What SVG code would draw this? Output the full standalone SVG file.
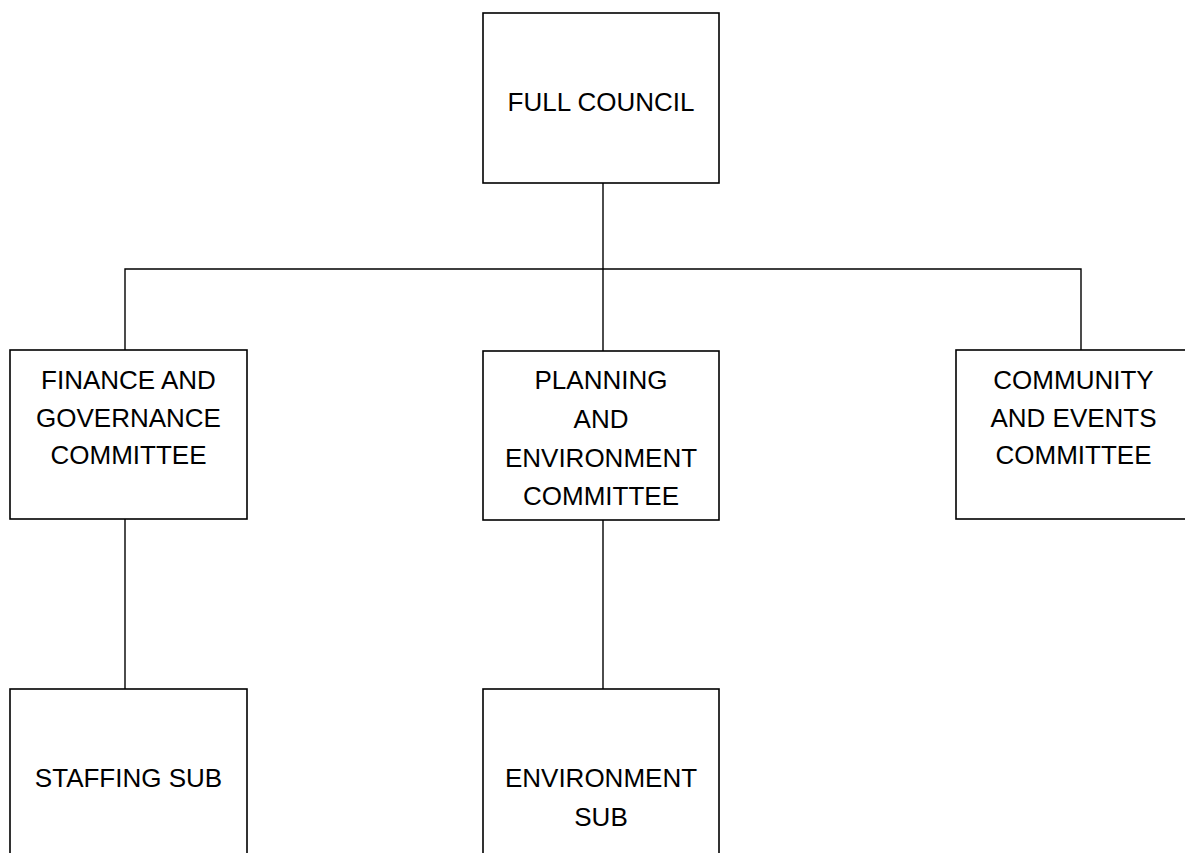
<svg xmlns="http://www.w3.org/2000/svg" width="1185" height="853" viewBox="0 0 1185 853">
<style>
.box{fill:#fff;stroke:#000;stroke-width:1.6}
.ln{fill:none;stroke:#000;stroke-width:1.4}
text{font-family:"Liberation Sans",Arial,sans-serif;font-size:26px;fill:#000;text-anchor:middle}
</style>
<rect width="1185" height="853" fill="#fff"/>
<g id="connectors">
<line class="ln" x1="603" y1="183" x2="603" y2="351"/>
<polyline class="ln" points="125,350 125,269 1081,269 1081,350"/>
<line class="ln" x1="125" y1="519" x2="125" y2="689"/>
<line class="ln" x1="603" y1="520" x2="603" y2="689"/>
</g>
<g id="full-council">
<rect class="box" x="483" y="13" width="236" height="170"/>
<text x="601" y="111">FULL COUNCIL</text>
</g>
<g id="finance">
<rect class="box" x="10" y="350" width="237" height="169"/>
<text x="128.5" y="389">FINANCE AND</text>
<text x="128.5" y="427">GOVERNANCE</text>
<text x="128.5" y="464">COMMITTEE</text>
</g>
<g id="planning">
<rect class="box" x="483" y="351" width="236" height="169"/>
<text x="601" y="389">PLANNING</text>
<text x="601" y="428">AND</text>
<text x="601" y="467">ENVIRONMENT</text>
<text x="601" y="505">COMMITTEE</text>
</g>
<g id="community">
<rect class="box" x="956" y="350" width="236" height="169"/>
<text x="1073.5" y="389">COMMUNITY</text>
<text x="1073.5" y="427">AND EVENTS</text>
<text x="1073.5" y="464">COMMITTEE</text>
</g>
<g id="staffing">
<rect class="box" x="10" y="689" width="237" height="200"/>
<text x="128.5" y="787">STAFFING SUB</text>
</g>
<g id="environment-sub">
<rect class="box" x="483" y="689" width="236" height="200"/>
<text x="601" y="787">ENVIRONMENT</text>
<text x="601" y="826">SUB</text>
</g>
</svg>
